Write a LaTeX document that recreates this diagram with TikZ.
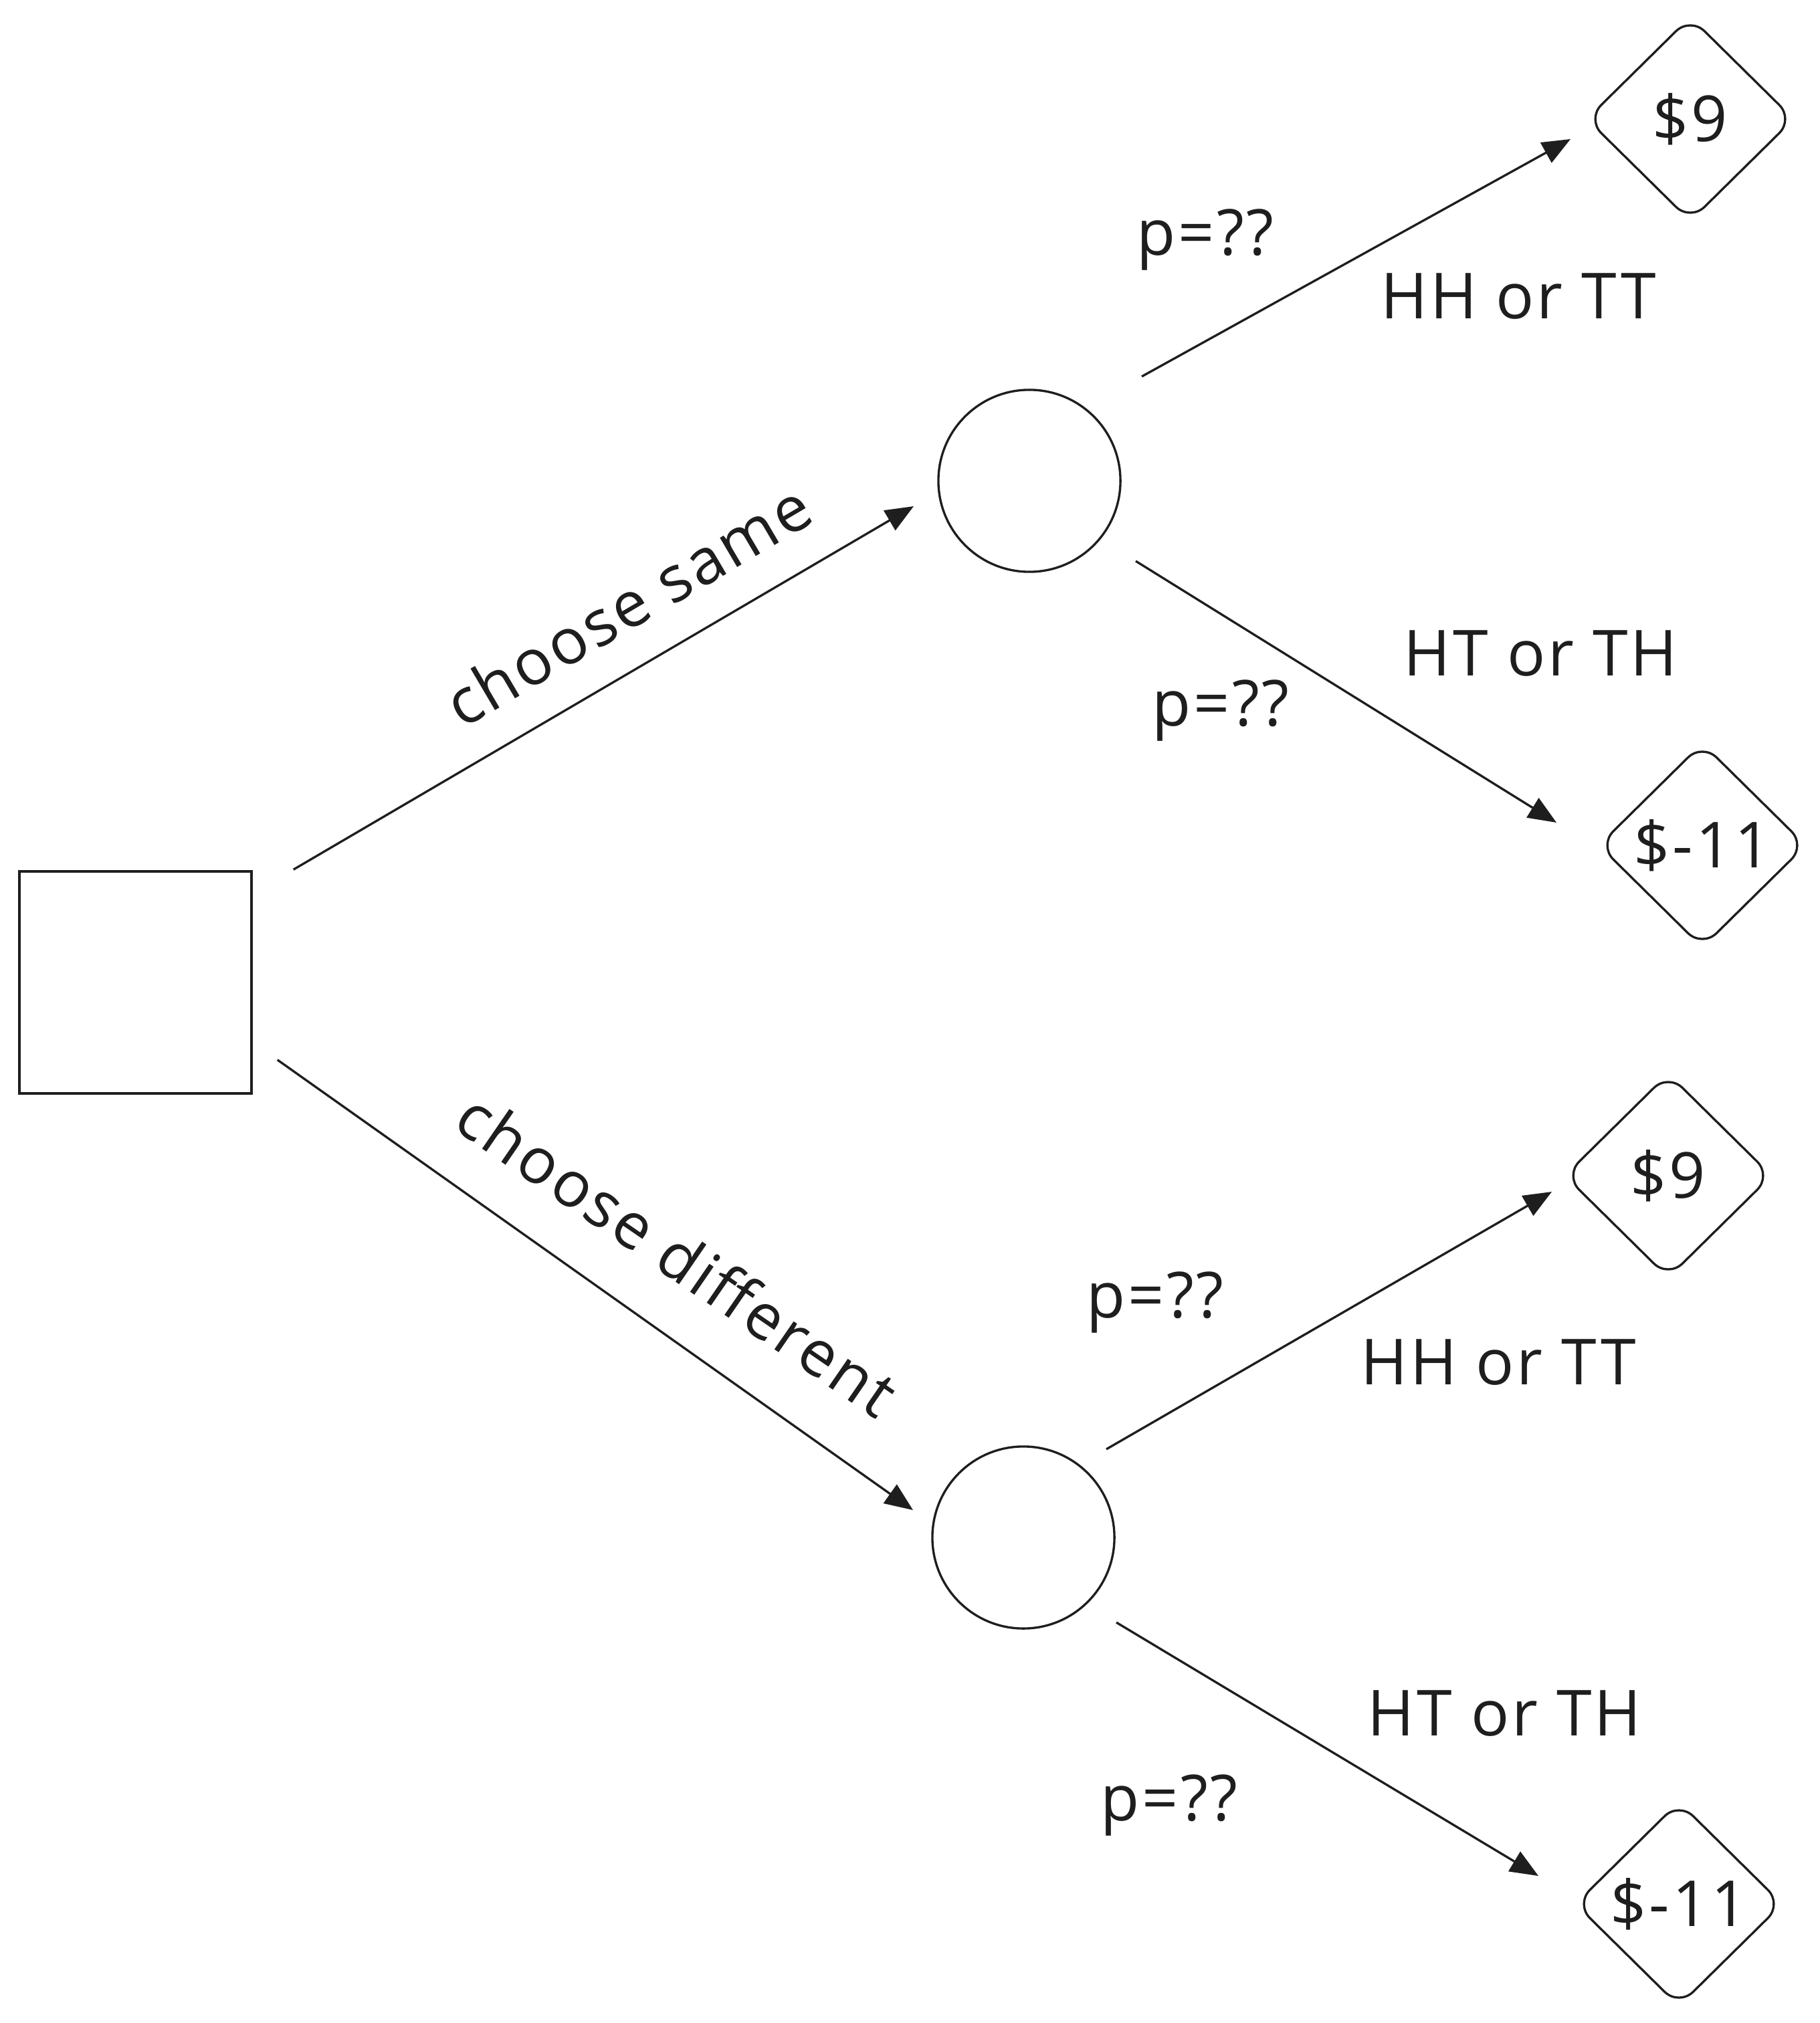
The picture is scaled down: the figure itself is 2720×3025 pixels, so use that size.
\documentclass[tikz,border=0pt]{standalone}
\usepackage{fontspec}
\setmainfont{Open Sans}[LetterSpace=4]
\usetikzlibrary{arrows.meta,shapes.geometric,calc}
\definecolor{ink}{HTML}{1E1E1E}
\begin{document}
\begin{tikzpicture}[x=0.01cm,y=-0.01cm,
  txt/.style={font=\fontsize{27pt}{32pt}\selectfont, text=ink},
  lbl/.style={txt, anchor=base, inner sep=0pt},
  rlbl/.style={txt, inner sep=0pt},
  sqbox/.style={draw=ink, line width=0.95pt, rectangle, minimum width=3.47cm, minimum height=3.32cm, inner sep=0pt},
  chance/.style={draw=ink, line width=0.95pt, circle, minimum size=2.72cm, inner sep=0pt},
  payoff/.style={txt, draw=ink, line width=0.95pt, diamond, rounded corners=0.3cm, minimum width=3.1cm, minimum height=3.06cm, inner sep=0pt},
  conn/.style={draw=ink, line width=0.95pt, -{Triangle[length=0.42cm,width=0.34cm]}}]
\useasboundingbox[fill=white] (0,0) rectangle (2720,3025);

% nodes
\node[sqbox] (sq) at (202.5,1469) {};
\node[chance] (c1) at (1539,719) {};
\node[chance] (c2) at (1530,2299) {};
\node[payoff] (d1) at (2527,178) {\$9};
\node[payoff] (d2) at (2545,1264) {\$-11};
\node[payoff] (d3) at (2494,1758) {\$9};
\node[payoff] (d4) at (2510,2847) {\$-11};

% connectors
\draw[conn] ($(sq.north east)+(61,-1)$) -- ($(c1)+(-173,38)$);
\draw[conn] ($(sq.south east)+(37,-52)$) -- ($(c2)+(-165,-41)$);
\draw[conn] ($(c1)+(168,-156)$) -- ($(d1)+(-179,30)$);
\draw[conn] ($(c1)+(159,120)$) -- ($(d2)+(-218,-34)$);
\draw[conn] ($(c2)+(124,-132)$) -- ($(d3)+(-174,24)$);
\draw[conn] ($(c2)+(139,127)$) -- ($(d4)+(-210,-42)$);

% labels
\node[rlbl, rotate=30.5] (cs) at (938,904) {choose same};
\node[rlbl, rotate=-34.5] (cd) at (1013,1875) {choose different};
\node[lbl] (p1) at (1802,382) {p=??};
\node[lbl] (hh1) at (2270,477) {HH or TT};
\node[lbl] (ht1) at (2303,1010) {HT or TH};
\node[lbl] (p2) at (1825,1085) {p=??};
\node[lbl] (p3) at (1727,1970) {p=??};
\node[lbl] (hh2) at (2240,2070) {HH or TT};
\node[lbl] (ht2) at (2249,2595) {HT or TH};
\node[lbl] (p4) at (1748,2722) {p=??};
\end{tikzpicture}
\end{document}
